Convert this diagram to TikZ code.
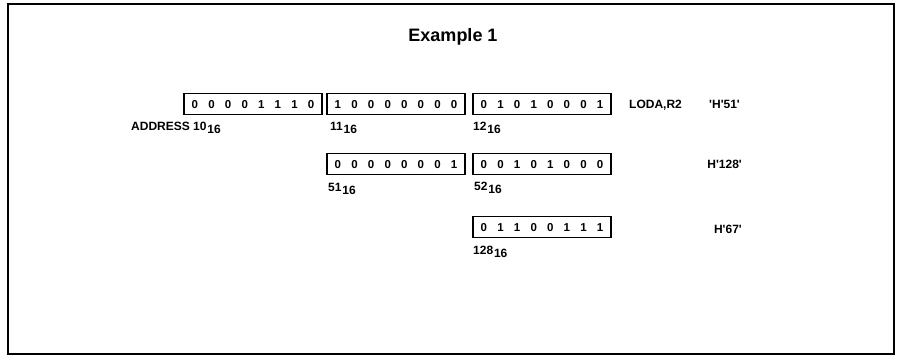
\documentclass[tikz,border=0pt]{standalone}
\usepackage{fontspec}
\setmainfont{Liberation Sans}
\usetikzlibrary{calc}
\newcommand\bytebox[4]{%
  \node[cell] (#1) at (#2,#3) {};
  \foreach \d [count=\i from 0] in {#4}{\node[dig] at ($(#1.center)+(\i*16.6-58.1,0.5)$) {\d};}%
}
\newcommand\sixteen{\hspace{0.8pt}\raisebox{-3pt}{16}}
\newcommand\q{\textquotesingle}
\begin{document}
\begin{tikzpicture}[x=1pt,y=-1pt,
  cell/.style={draw,line width=1.4pt,minimum width=138pt,minimum height=21pt,inner sep=0pt},
  lbl/.style={font=\bfseries\fontsize{12}{13}\selectfont,anchor=base west,inner sep=0pt},
  rlbl/.style={lbl,anchor=base east},
  dig/.style={font=\bfseries\fontsize{11.5}{12}\selectfont,inner sep=0pt}]
\useasboundingbox (0,0) rectangle (898,360);
\draw[line width=1.3pt] (8,4) rectangle (894,354);
\node[font=\bfseries\fontsize{18}{20}\selectfont] (title) at (453,37) {Example 1};
% row 1
\bytebox{a}{253}{104}{0,0,0,0,1,1,1,0}
\bytebox{b}{396}{104}{1,0,0,0,0,0,0,0}
\bytebox{c}{542}{104}{0,1,0,1,0,0,0,1}
\node[lbl] (la) at (131,130) {ADDRESS 10\sixteen};
\node[lbl] (lb) at (330,130) {11\sixteen};
\node[lbl] (lc) at (473,130) {12\sixteen};
\node[lbl] (instr) at (629,108) {LODA,R2};
\node[rlbl] (h51) at (740,108) {\q H\q 51\q};
% row 2
\bytebox{d}{396}{164}{0,0,0,0,0,0,0,1}
\bytebox{e}{542}{164}{0,0,1,0,1,0,0,0}
\node[lbl] (ld) at (328,191) {51\sixteen};
\node[lbl] (le) at (474,190) {52\sixteen};
\node[rlbl] (h128) at (742,168) {H\q 128\q};
% row 3
\bytebox{f}{542}{227}{0,1,1,0,0,1,1,1}
\node[lbl] (lf) at (473,254) {128\sixteen};
\node[rlbl] (h67) at (742,233) {H\q 67\q};
\end{tikzpicture}
\end{document}
